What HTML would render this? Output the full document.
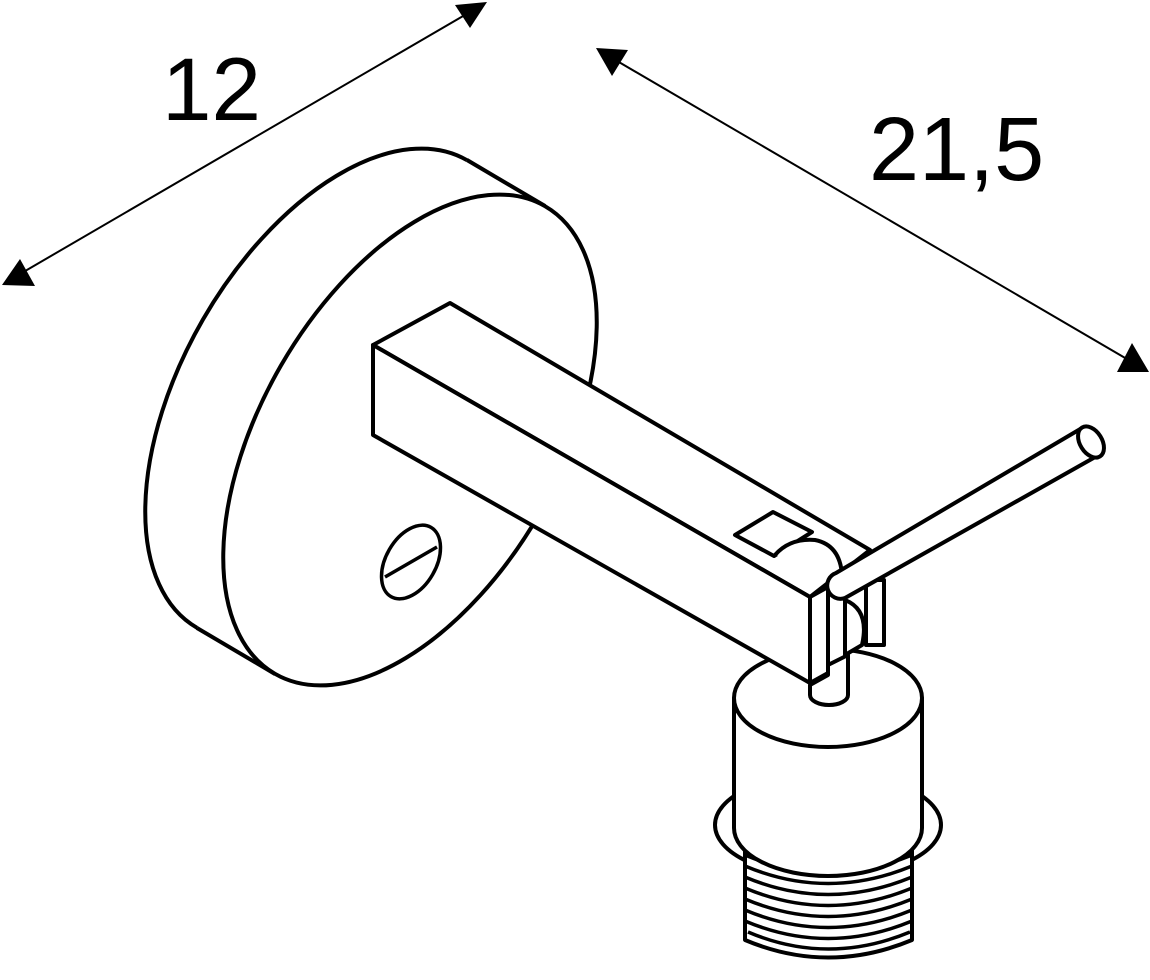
<!DOCTYPE html>
<html><head><meta charset="utf-8"><style>html,body{margin:0;padding:0;background:#fff}svg{display:block}</style></head>
<body>
<svg width="1150" height="980" viewBox="0 0 1150 980" xmlns="http://www.w3.org/2000/svg" font-family="Liberation Sans, sans-serif">
<g stroke="#000" stroke-width="2" fill="#000">
<line x1="20" y1="274" x2="470" y2="12"/>
<polygon points="2,285 35,286 20,259" stroke="none"/>
<polygon points="487,2 470,28 455,5" stroke="none"/>
<line x1="612" y1="58" x2="1132" y2="362"/>
<polygon points="596,48 628,50 612,76" stroke="none"/>
<polygon points="1149,372 1117,372 1132,343" stroke="none"/>
</g>
<text x="162" y="120" font-size="89" fill="#000">12</text>
<text x="869" y="180" font-size="90" fill="#000">21,5</text>

<g stroke="#000" stroke-width="4" fill="#fff" stroke-linejoin="round">
<!-- disc -->
<ellipse cx="332" cy="394" rx="149" ry="270" transform="rotate(30 332 394)"/>
<polygon points="467,160 545,206 275,674 197,628" stroke="none"/>
<line x1="467" y1="160" x2="545" y2="206"/>
<line x1="197" y1="628" x2="275" y2="674"/>
<ellipse cx="410" cy="440" rx="149" ry="270" transform="rotate(30 410 440)"/>
<ellipse cx="411" cy="562" rx="25" ry="40" transform="rotate(30 411 562)" stroke-width="3.5"/>
<line x1="385" y1="577" x2="437" y2="547" stroke-width="3.5"/>

<!-- socket -->
<ellipse cx="828" cy="825" rx="113" ry="52"/>
<path d="M745,840 L745,940 Q828,975 912,940 L912,840 Z" stroke-width="4"/>
<g fill="none" stroke-width="3.5">
<path d="M745,855 Q828,890 912,855"/><path d="M745,866 Q828,901 912,866"/>
<path d="M745,877 Q828,912 912,877"/><path d="M745,888 Q828,923 912,888"/>
<path d="M745,899 Q828,934 912,899"/><path d="M745,910 Q828,945 912,910"/>
<path d="M745,921 Q828,956 912,921"/><path d="M748,932 Q828,966 910,932"/>
</g>
<path d="M745,850 Q828,895 912,850" stroke-width="6" fill="none"/>
<path d="M734,698 L734,828 A94,48 0 0 0 922,828 L922,698 Z"/>
<ellipse cx="828" cy="698" rx="94" ry="49"/>

<!-- arm -->
<polygon points="373,345 450,303 870,550 810,597"/>
<polygon points="373,345 810,597 810,683 373,435"/>
<polygon points="810,597 828,587 828,673 810,683"/>
<polygon points="735,535 773,512 812,532 774,556"/>
<path d="M775,555 Q790,538 815,540 Q840,545 842,575" fill="#fff"/>
<!-- bracket -->
<polygon points="828,595 845,585 845,665 828,675"/>
<rect x="866" y="580" width="18" height="65"/>
<path d="M845,600 Q870,610 862,645 L845,655 Z"/>
<path d="M810,685 L810,695 A19,10 0 0 0 848,695 L848,655 L828,665 L828,675 Z"/>
<!-- rod -->
<path d="M836,573 L1082,428 L1097,456 L845,598 A13,13 0 0 1 836,573 Z"/>
<ellipse cx="1091" cy="442" rx="11" ry="17" transform="rotate(-32 1091 442)"/>
</g>
</svg>
</body></html>
